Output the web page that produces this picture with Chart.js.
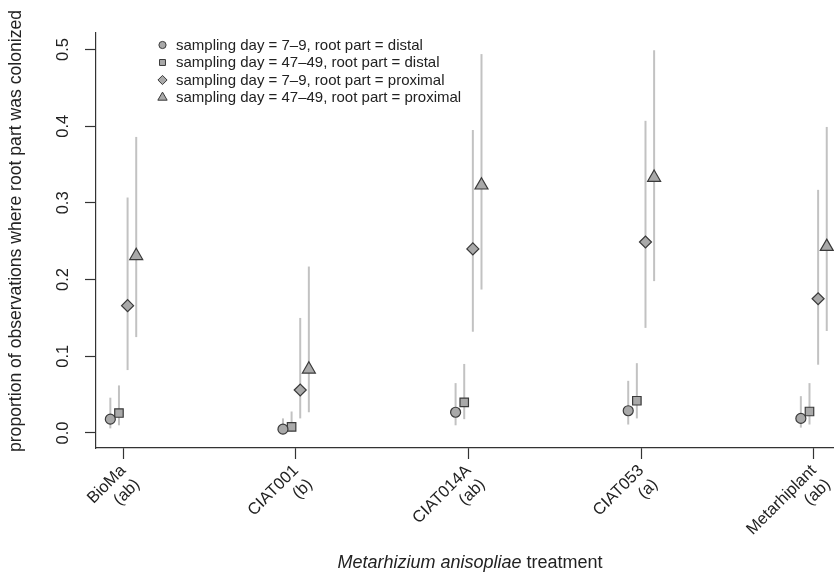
<!DOCTYPE html>
<html>
<head>
<meta charset="utf-8">
<script src="https://cdn.jsdelivr.net/npm/chart.js@4.4.0/dist/chart.umd.min.js"></script>
<style>
html, body { margin: 0; padding: 0; background: #fff; }
#wrap { width: 834px; height: 575px; }
</style>
</head>
<body>
<div id="wrap"><canvas id="chart"></canvas></div>
<script>
// treatments and letter groups (x tick labels)
const treatments = ['BioMa', 'CIAT001', 'CIAT014A', 'CIAT053', 'Metarhiplant'];
const groups = ['(ab)', '(b)', '(ab)', '(a)', '(ab)'];
const yTicks = [0, 0.1, 0.2, 0.3, 0.4, 0.5];

const seriesLabels = [
    'sampling day = 7\u20139, root part = distal',
    'sampling day = 47\u201349, root part = distal',
    'sampling day = 7\u20139, root part = proximal',
    'sampling day = 47\u201349, root part = proximal'
];

// estimates + confidence limits
const distal7 = [0.018, 0.005, 0.027, 0.029, 0.019];
const distal7Lo = [0.006, 0.001, 0.010, 0.011, 0.007];
const distal7Hi = [0.046, 0.019, 0.065, 0.068, 0.048];

const distal47 = [0.026, 0.008, 0.040, 0.042, 0.028];
const distal47Lo = [0.010, 0.002, 0.018, 0.019, 0.011];
const distal47Hi = [0.062, 0.028, 0.090, 0.091, 0.065];

const prox7 = [0.166, 0.056, 0.240, 0.249, 0.175];
const prox7Lo = [0.082, 0.019, 0.132, 0.137, 0.089];
const prox7Hi = [0.307, 0.150, 0.395, 0.407, 0.317];

const prox47 = [0.231, 0.083, 0.323, 0.333, 0.243];
const prox47Lo = [0.125, 0.027, 0.187, 0.198, 0.133];
const prox47Hi = [0.386, 0.217, 0.494, 0.499, 0.399];

const FONT = "'Liberation Sans', Arial, Helvetica, sans-serif";
const FILL = '#a9a9a9';
const EDGE = '#3a3a3a';
const BAR = '#c2c2c2';
const TXT = '#222';

const shift = [-0.075, -0.025, 0.025, 0.075];
const shapes = ['circle', 'rect', 'rectRot', 'triangle'];
const radii = [5, 6, 6, 7.5];
const values = [distal7, distal47, prox7, prox47];
const lows = [distal7Lo, distal47Lo, prox7Lo, prox47Lo];
const highs = [distal7Hi, distal47Hi, prox7Hi, prox47Hi];

const datasets = values.map((vals, s) => ({
    label: seriesLabels[s],
    data: vals.map((v, i) => ({x: i + shift[s], y: v, lo: lows[s][i], hi: highs[s][i]})),
    pointStyle: shapes[s],
    pointRadius: radii[s],
    pointHoverRadius: radii[s],
    backgroundColor: FILL,
    borderColor: EDGE,
    borderWidth: 1.2,
    showLine: false
}));

// vertical interval lines under the points
const errorBars = {
    id: 'errorBars',
    beforeDatasetsDraw(chart) {
        const ctx = chart.ctx;
        const xs = chart.scales.x, ys = chart.scales.y;
        ctx.save();
        ctx.strokeStyle = BAR;
        ctx.lineWidth = 2;
        chart.data.datasets.forEach(ds => {
            ds.data.forEach(p => {
                const px = xs.getPixelForValue(p.x);
                ctx.beginPath();
                ctx.moveTo(px, ys.getPixelForValue(p.lo));
                ctx.lineTo(px, ys.getPixelForValue(p.hi));
                ctx.stroke();
            });
        });
        ctx.restore();
    }
};

// legend in the upper left, axis titles (x title has an italic species name)
const extras = {
    id: 'extras',
    afterDraw(chart) {
        const ctx = chart.ctx;
        ctx.save();
        ctx.font = '15px ' + FONT;
        ctx.textBaseline = 'middle';
        const legendR = [3.6, 4.2, 4.6, 5.4];
        chart.data.datasets.forEach((ds, s) => {
            const y = 45 + s * 17.5;
            ctx.fillStyle = FILL;
            ctx.strokeStyle = EDGE;
            ctx.lineWidth = 1;
            Chart.helpers.drawPoint(ctx, {
                pointStyle: shapes[s], radius: legendR[s], borderWidth: 1
            }, 162.5, y);
            ctx.fillStyle = TXT;
            ctx.fillText(ds.label, 176, y + 0.5);
        });

        // x title
        const cx = 470;
        const ty = 563;
        ctx.font = 'italic 18px ' + FONT;
        const w1 = ctx.measureText('Metarhizium anisopliae').width;
        ctx.font = '18px ' + FONT;
        const w2 = ctx.measureText(' treatment').width;
        const x0 = cx - (w1 + w2) / 2;
        ctx.textAlign = 'left';
        ctx.font = 'italic 18px ' + FONT;
        ctx.fillText('Metarhizium anisopliae', x0, ty);
        ctx.font = '18px ' + FONT;
        ctx.fillText(' treatment', x0 + w1, ty);

        // y title
        ctx.translate(16, 231);
        ctx.rotate(-Math.PI / 2);
        ctx.textAlign = 'center';
        ctx.font = '17.6px ' + FONT;
        ctx.fillText('proportion of observations where root part was colonized', 0, 0);
        ctx.restore();
    }
};

const chart = new Chart(document.getElementById('chart'), {
    type: 'scatter',
    data: {datasets: datasets},
    plugins: [errorBars, extras],
    options: {
        responsive: true,
        maintainAspectRatio: false,
        animation: false,
        layout: {autoPadding: false, padding: {top: 33, right: 0, left: 0, bottom: 0}},
        plugins: {
            legend: {display: false},
            tooltip: {enabled: false}
        },
        scales: {
            x: {
                type: 'linear',
                min: -0.158,
                max: 4.117,
                afterBuildTicks: s => { s.ticks = treatments.map((t, i) => ({value: i})); },
                afterFit: s => { s.height = 127; s.paddingLeft = 0; s.paddingRight = 0; },
                grid: {drawOnChartArea: false, drawTicks: true, tickLength: 11, tickColor: '#333', tickWidth: 1.2},
                border: {display: true, color: '#333', width: 1.2},
                ticks: {
                    autoSkip: false,
                    minRotation: 45,
                    maxRotation: 45,
                    padding: 2,
                    color: TXT,
                    font: {family: FONT, size: 16.5},
                    callback: (v, i) => [treatments[i], groups[i]]
                }
            },
            y: {
                min: -0.0196,
                max: 0.5215,
                afterBuildTicks: s => { s.ticks = yTicks.map(v => ({value: v})); },
                afterFit: s => { s.width = 96; s.paddingTop = 0; s.paddingBottom = 0; },
                grid: {drawOnChartArea: false, drawTicks: true, tickLength: 11, tickColor: '#333', tickWidth: 1.2},
                border: {display: true, color: '#333', width: 1.2},
                ticks: {
                    minRotation: 90,
                    maxRotation: 90,
                    crossAlign: 'center',
                    padding: 10,
                    color: TXT,
                    font: {family: FONT, size: 16.5},
                    callback: v => v.toFixed(1)
                }
            }
        }
    }
});
</script>
</body>
</html>
